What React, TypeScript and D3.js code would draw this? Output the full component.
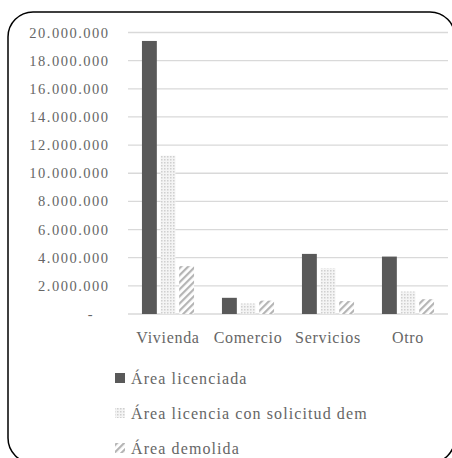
import React from "react";
import * as d3 from "d3";

const categories = ["Vivienda", "Comercio", "Servicios", "Otro"];
const seriesNames = [
  "Área licenciada",
  "Área licencia con solicitud dem",
  "Área demolida",
];
const areaLicenciada = [19400000, 1150000, 4270000, 4080000];
const areaSolicitudDem = [11250000, 750000, 3250000, 1600000];
const areaDemolida = [3400000, 950000, 920000, 1050000];
const yTicks = [0, 2000000, 4000000, 6000000, 8000000, 10000000, 12000000, 14000000, 16000000, 18000000, 20000000];

const series = [areaLicenciada, areaSolicitudDem, areaDemolida];
const fills = ["#595959", "url(#dots)", "url(#hatch)"];

const W = 452;
const H = 458;
const plot = { left: 128, right: 448, top: 32.5, bottom: 314 };
const FONT = '"Liberation Serif", "DejaVu Serif", Georgia, serif';
const TEXT = "#666666";

const fmt = (v: number) =>
  v === 0 ? "-" : d3.format(",")(v).replace(/,/g, ".");

export default function App() {
  const x0 = d3.scaleBand<string>().domain(categories).range([plot.left, plot.right]);
  const x1 = d3
    .scaleBand<number>()
    .domain([0, 1, 2])
    .range([0, x0.bandwidth()])
    .paddingInner(0.2)
    .paddingOuter(0.75);
  const y = d3.scaleLinear().domain([0, 20000000]).range([plot.bottom, plot.top]);

  const textStyle = { fontFamily: FONT };

  return (
    <div style={{ position: "absolute", left: 0, top: 0 }}>
      <svg width={W} height={H} style={{ display: "block" }}>
        <defs>
          <pattern id="dots" width="3" height="3" patternUnits="userSpaceOnUse">
            <rect width="3" height="3" fill="#f4f4f4" />
            <rect width="1.5" height="1.5" fill="#cfcfcf" />
          </pattern>
          <pattern
            id="hatch"
            width="5"
            height="5"
            patternUnits="userSpaceOnUse"
            patternTransform="rotate(45)"
          >
            <rect width="5" height="5" fill="#ffffff" />
            <rect width="2.2" height="5" fill="#b4b4b4" />
          </pattern>
        </defs>
        <rect width={W} height={H} fill="#ffffff" />

        {/* gridlines and value axis */}
        {yTicks.map((t) => (
          <g key={t}>
            <line
              x1={plot.left}
              x2={plot.right}
              y1={y(t)}
              y2={y(t)}
              stroke="#d9d9d9"
              strokeWidth={1.3}
            />
            <text
              x={t === 0 ? 91 : 109.5}
              y={y(t)}
              dy="0.35em"
              textAnchor={t === 0 ? "middle" : "end"}
              style={textStyle}
              fontSize={14.5}
              letterSpacing={1.5}
              fill={TEXT}
            >
              {fmt(t)}
            </text>
          </g>
        ))}

        {/* bars */}
        {categories.map((c, ci) => (
          <g key={c} transform={`translate(${x0(c)},0)`}>
            {series.map((s, si) => (
              <rect
                key={si}
                x={x1(si)}
                y={y(s[ci])}
                width={x1.bandwidth()}
                height={y(0) - y(s[ci])}
                fill={fills[si]}
              />
            ))}
          </g>
        ))}

        {/* category labels */}
        {categories.map((c) => (
          <text
            key={c}
            x={(x0(c) as number) + x0.bandwidth() / 2}
            y={343}
            textAnchor="middle"
            style={textStyle}
            fontSize={16}
            letterSpacing={0.7}
            fill={TEXT}
          >
            {c}
          </text>
        ))}

        {/* legend */}
        {seriesNames.map((n, i) => {
          const cy = 378 + i * 35;
          return (
            <g key={n}>
              <rect x={115} y={cy - 5} width={10} height={10} fill={fills[i]} />
              <text
                x={131}
                y={cy}
                dy="0.35em"
                style={textStyle}
                fontSize={16}
                letterSpacing={1.1}
                fill={TEXT}
              >
                {n}
              </text>
            </g>
          );
        })}

        {/* rounded frame */}
        <rect
          x={8}
          y={12}
          width={447}
          height={451}
          rx={25}
          ry={25}
          fill="none"
          stroke="#000000"
          strokeWidth={1.5}
        />
      </svg>
    </div>
  );
}
